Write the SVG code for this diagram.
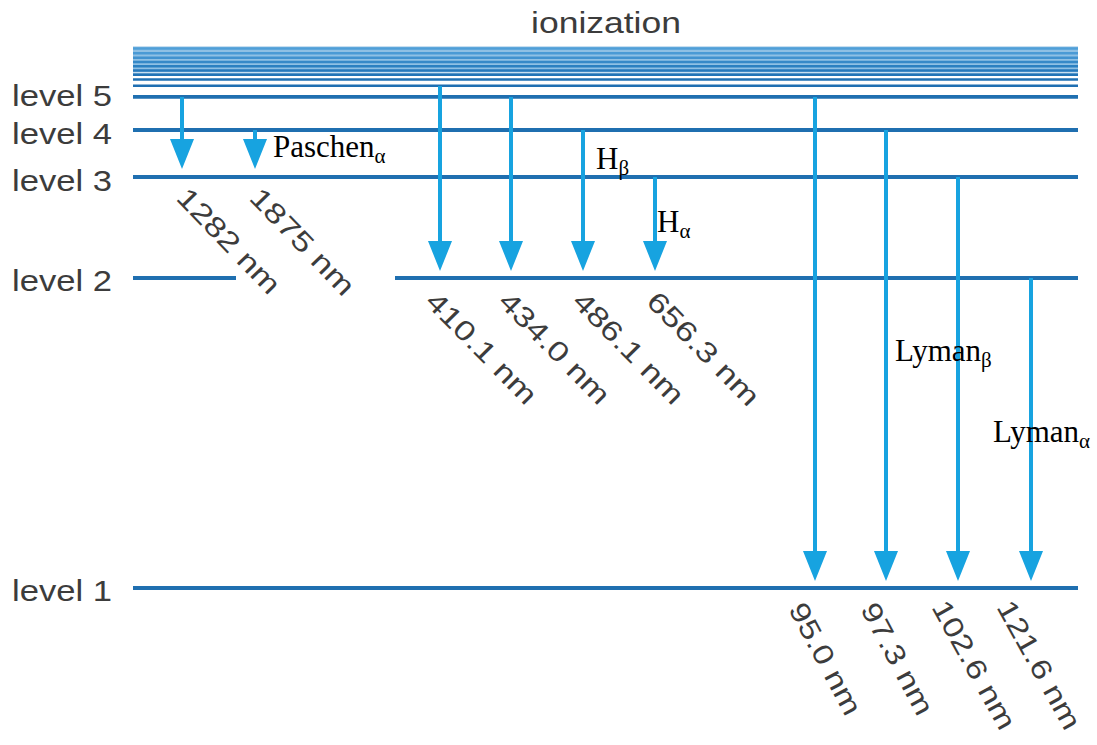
<svg xmlns="http://www.w3.org/2000/svg" width="1097" height="745" viewBox="0 0 1097 745">
<style>
.lvl{stroke:#1f6fb0;stroke-width:3.8;fill:none}
.band{fill:none;stroke-width:2.6}
.arr{stroke:#17a3e0;stroke-width:4;fill:none}
.sans{font-family:"Liberation Sans",Arial,sans-serif;font-size:29px;fill:#3c3c3c}
.num{font-family:"Liberation Sans",Arial,sans-serif;font-size:28px;fill:#3c3c3c}
.ser{font-family:"Liberation Serif","Times New Roman",serif;font-size:31px;fill:#000}
.sub{font-size:21px}
</style>
<defs>
<marker id="ah" markerUnits="userSpaceOnUse" markerWidth="31" markerHeight="26" viewBox="0 -13 31 26" refX="19" refY="0" orient="auto">
<path d="M0,-12 L30,0 L0,12 Z" fill="#17a3e0"/>
</marker>
</defs>
<rect width="1097" height="745" fill="#fff"/>
<text class="sans" x="531" y="33" textLength="150" lengthAdjust="spacingAndGlyphs">ionization</text>
<g id="ionization-band">
<rect x="133" y="46.5" width="945" height="26" fill="#8fc0e4"/>
<line class="band" x1="133" y1="48.5" x2="1078" y2="48.5" stroke="#4f9fd8" stroke-width="3.2"/>
<line class="band" x1="133" y1="53.3" x2="1078" y2="53.3" stroke="#4a9ad5" stroke-width="3.2"/>
<line class="band" x1="133" y1="57.8" x2="1078" y2="57.8" stroke="#4192cf"/>
<line class="band" x1="133" y1="62" x2="1078" y2="62" stroke="#3689c8"/>
<line class="band" x1="133" y1="66.2" x2="1078" y2="66.2" stroke="#2b80c1"/>
<line class="band" x1="133" y1="70.5" x2="1078" y2="70.5" stroke="#2679bc"/>
<line class="band" x1="133" y1="74.6" x2="1078" y2="74.6" stroke="#2174b7"/>
<line class="band" x1="133" y1="79.5" x2="1078" y2="79.5" stroke="#1f71b4" stroke-width="2.8"/>
<line class="band" x1="133" y1="85.8" x2="1078" y2="85.8" stroke="#1f6fb2" stroke-width="3.2"/>
</g>
<g id="level5">
<line class="lvl" x1="133" y1="96.8" x2="1078" y2="96.8"/>
<text class="sans" x="12" y="106" textLength="100" lengthAdjust="spacingAndGlyphs">level 5</text>
</g>
<g id="level4">
<line class="lvl" x1="133" y1="130" x2="1078" y2="130"/>
<text class="sans" x="12" y="144" textLength="100" lengthAdjust="spacingAndGlyphs">level 4</text>
</g>
<g id="level3">
<line class="lvl" x1="133" y1="177" x2="1078" y2="177"/>
<text class="sans" x="12" y="191" textLength="100" lengthAdjust="spacingAndGlyphs">level 3</text>
</g>
<g id="level2">
<line class="lvl" x1="133" y1="278" x2="236" y2="278"/>
<line class="lvl" x1="395" y1="278" x2="1078" y2="278"/>
<text class="sans" x="12" y="291" textLength="100" lengthAdjust="spacingAndGlyphs">level 2</text>
</g>
<g id="level1">
<line class="lvl" x1="133" y1="588" x2="1078" y2="588"/>
<text class="sans" x="12" y="601" textLength="100" lengthAdjust="spacingAndGlyphs">level 1</text>
</g>
<g id="connectors">
<line class="arr" x1="182" y1="97" x2="182" y2="158" marker-end="url(#ah)"/>
<line class="arr" x1="255" y1="130" x2="255" y2="158" marker-end="url(#ah)"/>
<line class="arr" x1="440" y1="86" x2="440" y2="260" marker-end="url(#ah)"/>
<line class="arr" x1="511" y1="97" x2="511" y2="260" marker-end="url(#ah)"/>
<line class="arr" x1="583" y1="130" x2="583" y2="260" marker-end="url(#ah)"/>
<line class="arr" x1="655" y1="177" x2="655" y2="260" marker-end="url(#ah)"/>
<line class="arr" x1="815" y1="97" x2="815" y2="570" marker-end="url(#ah)"/>
<line class="arr" x1="886" y1="130" x2="886" y2="570" marker-end="url(#ah)"/>
<line class="arr" x1="958" y1="177" x2="958" y2="570" marker-end="url(#ah)"/>
<line class="arr" x1="1031" y1="278" x2="1031" y2="570" marker-end="url(#ah)"/>
</g>
<g id="line-labels">
<text class="ser" x="273" y="157">Paschen<tspan class="sub" dy="6">α</tspan></text>
<text class="ser" x="596" y="169">H<tspan class="sub" dy="6">β</tspan></text>
<text class="ser" x="657" y="232">H<tspan class="sub" dy="6">α</tspan></text>
<text class="ser" x="895" y="361">Lyman<tspan class="sub" dy="6">β</tspan></text>
<text class="ser" x="993" y="442">Lyman<tspan class="sub" dy="6">α</tspan></text>
</g>
<g id="wavelengths">
<text class="num" transform="translate(175,199) rotate(46)" textLength="135" lengthAdjust="spacingAndGlyphs">1282 nm</text>
<text class="num" transform="translate(248,199) rotate(46)" textLength="137" lengthAdjust="spacingAndGlyphs">1875 nm</text>
<text class="num" transform="translate(424,303) rotate(45.5)" textLength="145" lengthAdjust="spacingAndGlyphs">410.1 nm</text>
<text class="num" transform="translate(497,303) rotate(45.5)" textLength="145" lengthAdjust="spacingAndGlyphs">434.0 nm</text>
<text class="num" transform="translate(571,303) rotate(45.5)" textLength="145" lengthAdjust="spacingAndGlyphs">486.1 nm</text>
<text class="num" transform="translate(645,303) rotate(45.5)" textLength="147" lengthAdjust="spacingAndGlyphs">656.3 nm</text>
<text class="num" transform="translate(788,609) rotate(62)" textLength="123" lengthAdjust="spacingAndGlyphs">95.0 nm</text>
<text class="num" transform="translate(860,609) rotate(62)" textLength="123" lengthAdjust="spacingAndGlyphs">97.3 nm</text>
<text class="num" transform="translate(931,607) rotate(61)" textLength="143" lengthAdjust="spacingAndGlyphs">102.6 nm</text>
<text class="num" transform="translate(996,607) rotate(61)" textLength="143" lengthAdjust="spacingAndGlyphs">121.6 nm</text>
</g>
</svg>
